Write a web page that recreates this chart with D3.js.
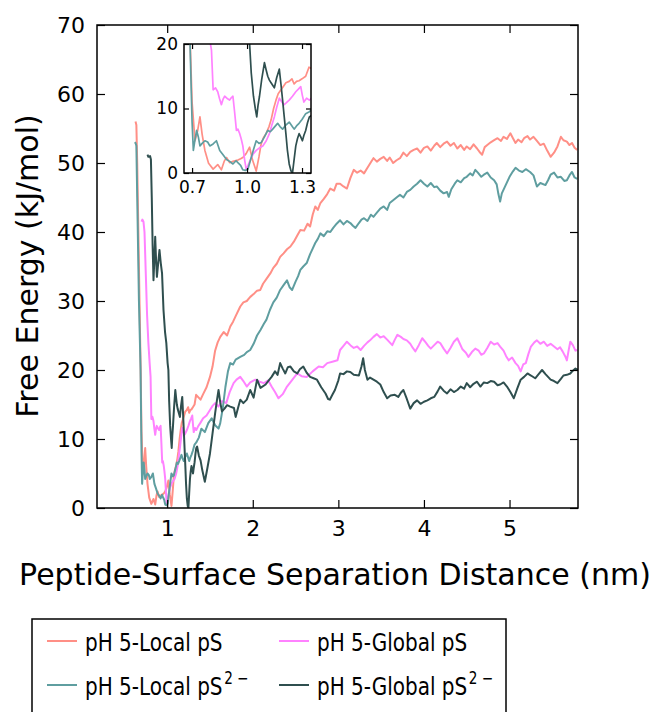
<!DOCTYPE html>
<html>
<head>
<meta charset="utf-8">
<script src="https://cdn.jsdelivr.net/npm/d3@7"></script>
<style>
    body { margin: 0; background: #fff; }
    svg { font-family: 'DejaVu Sans', sans-serif; }
</style>
</head>
<body>
<script>
// Series data (distance in nm, free energy in kJ/mol)
const distLocalPS = [0.63, 0.64, 0.65, 0.67, 0.69, 0.70, 0.716, 0.73, 0.743, 0.755, 0.77, 0.79, 0.815, 0.84, 0.86, 0.875, 0.888, 0.905, 0.923, 0.95, 0.965, 0.977, 0.995, 1.014, 1.03, 1.05, 1.065, 1.077, 1.09, 1.104, 1.12, 1.131, 1.145, 1.158, 1.17, 1.185, 1.2, 1.212, 1.23, 1.245, 1.257, 1.27, 1.284, 1.3, 1.32, 1.338, 1.36, 1.39, 1.42, 1.46, 1.5, 1.53, 1.56, 1.59, 1.62, 1.66, 1.7, 1.737, 1.77, 1.8, 1.854, 1.89, 1.93, 1.971, 2.01, 2.05, 2.088, 2.12, 2.16, 2.205, 2.24, 2.28, 2.32, 2.36, 2.4, 2.44, 2.48, 2.52, 2.556, 2.6, 2.64, 2.67, 2.7, 2.73, 2.76, 2.79, 2.83, 2.87, 2.906, 2.95, 2.98, 3.02, 3.06, 3.1, 3.14, 3.18, 3.22, 3.26, 3.3, 3.34, 3.38, 3.41, 3.45, 3.49, 3.53, 3.57, 3.6, 3.64, 3.68, 3.72, 3.76, 3.8, 3.84, 3.88, 3.92, 3.96, 4.0, 4.04, 4.08, 4.12, 4.15, 4.19, 4.23, 4.27, 4.31, 4.35, 4.39, 4.43, 4.47, 4.5, 4.54, 4.58, 4.62, 4.65, 4.68, 4.71, 4.74, 4.78, 4.82, 4.86, 4.9, 4.93, 4.97, 5.01, 5.04, 5.07, 5.1, 5.14, 5.17, 5.21, 5.24, 5.28, 5.32, 5.36, 5.4, 5.44, 5.48, 5.52, 5.56, 5.6, 5.63, 5.67, 5.7, 5.73, 5.76, 5.79];
const energyLocalPS = [56, 55.5, 50, 35, 20, 11, 5, 6.5, 8.7, 6, 3.5, 1.5, 0.6, 1.3, 0.5, 1.8, 2.4, 1.6, 1.8, 2.0, 2.2, 2.4, 3.0, 4.0, 2.0, 0.3, 2.5, 4.5, 5.5, 6.1, 7.2, 8.2, 10, 11.3, 12.3, 12.9, 13.5, 14.0, 14.2, 14.6, 13.8, 14.2, 14.3, 14.6, 15.0, 16.4, 16.1, 15.7, 16.5, 17.5, 19, 20.5, 22.8, 24.0, 24.8, 25.5, 25.0, 26.3, 27.0, 27.8, 29.2, 29.8, 30.0, 30.6, 31.0, 31.5, 31.6, 32.5, 33.2, 34.0, 34.8, 35.4, 36.4, 36.9, 37.5, 37.9, 38.6, 39.5, 40.3, 40.2, 41.2, 40.8, 42.5, 43.7, 43.2, 44.2, 44.8, 45.5, 46.3, 46.0, 47.0, 47.0, 46.6, 46.3, 47.8, 49.0, 48.6, 48.9, 48.5, 49.3, 50.1, 50.7, 50.2, 50.6, 50.9, 50.3, 50.8, 50.0, 50.4, 50.7, 51.5, 51.0, 51.6, 51.9, 52.1, 51.5, 52.2, 52.4, 51.8, 52.5, 52.9, 52.3, 52.8, 53.1, 52.5, 52.9, 52.1, 52.6, 51.9, 52.4, 52.0, 52.7, 52.1, 51.6, 51.2, 52.3, 52.6, 53.0, 53.3, 53.6, 53.2, 53.8, 53.5, 54.3, 53.6, 52.9, 53.4, 53.0, 53.6, 53.9, 53.4, 53.8, 53.2, 52.6, 52.8, 51.8, 50.9, 51.5, 52.4, 53.8, 53.3, 53.1, 52.6, 52.9, 52.2, 51.9];

const distGlobalPS = [0.70, 0.71, 0.723, 0.735, 0.75, 0.765, 0.78, 0.795, 0.806, 0.815, 0.828, 0.84, 0.85, 0.86, 0.87, 0.878, 0.89, 0.905, 0.915, 0.923, 0.932, 0.942, 0.95, 0.96, 0.968, 0.977, 0.987, 0.996, 1.01, 1.023, 1.035, 1.05, 1.068, 1.086, 1.105, 1.122, 1.135, 1.149, 1.162, 1.176, 1.19, 1.203, 1.215, 1.23, 1.248, 1.266, 1.28, 1.293, 1.302, 1.31, 1.325, 1.34, 1.36, 1.386, 1.42, 1.46, 1.5, 1.53, 1.56, 1.6, 1.64, 1.69, 1.73, 1.776, 1.81, 1.854, 1.89, 1.93, 1.97, 2.03, 2.08, 2.13, 2.18, 2.22, 2.26, 2.3, 2.35, 2.4, 2.45, 2.52, 2.57, 2.63, 2.7, 2.77, 2.82, 2.87, 2.93, 2.99, 3.02, 3.06, 3.1, 3.14, 3.18, 3.22, 3.26, 3.3, 3.34, 3.37, 3.41, 3.45, 3.49, 3.53, 3.57, 3.6, 3.63, 3.66, 3.69, 3.73, 3.76, 3.8, 3.84, 3.87, 3.9, 3.94, 3.98, 4.02, 4.05, 4.08, 4.12, 4.16, 4.19, 4.23, 4.27, 4.31, 4.35, 4.39, 4.42, 4.45, 4.49, 4.52, 4.56, 4.6, 4.64, 4.67, 4.7, 4.74, 4.78, 4.82, 4.86, 4.89, 4.93, 4.96, 4.99, 5.03, 5.07, 5.1, 5.13, 5.16, 5.19, 5.22, 5.25, 5.29, 5.32, 5.36, 5.4, 5.44, 5.48, 5.52, 5.56, 5.59, 5.62, 5.65, 5.67, 5.69, 5.71, 5.74, 5.77, 5.79];
const energyGlobalPS = [41.5, 41.8, 41.5, 40, 34, 28, 24, 21, 19, 12.9, 13.2, 12.6, 11.5, 10.6, 11.5, 11.9, 11.6, 11.3, 11.7, 11.9, 9.5, 6.6, 6.8, 6.1, 5.3, 4.2, 2.0, 0.5, 1.5, 2.4, 3.0, 3.5, 3.9, 4.2, 5.0, 6.1, 7.4, 8.7, 10.2, 11.6, 11.0, 10.6, 10.9, 11.3, 11.9, 12.6, 13.0, 13.4, 12.0, 11.0, 11.6, 11.3, 11.8, 12.3, 13.0, 13.4, 14.2, 14.8, 15.2, 14.7, 15.5, 15.2, 16.8, 18.1, 18.6, 19.0, 18.4, 17.6, 18.2, 18.6, 18.3, 18.1, 18.5, 17.6, 16.8, 15.9, 16.5, 17.6, 18.4, 19.5, 19.1, 19.0, 19.8, 20.5, 20.4, 21.0, 21.2, 21.4, 22.9, 23.5, 24.1, 23.6, 23.2, 23.4, 22.9, 23.5, 24.0, 24.3, 24.8, 25.2, 24.7, 24.9, 24.4, 24.0, 23.6, 24.4, 25.1, 24.8, 24.5, 24.3, 23.8, 23.2, 22.7, 23.6, 24.6, 24.0, 23.5, 23.1, 23.6, 24.1, 23.9, 23.1, 22.4, 23.2, 24.1, 24.6, 23.8, 23.0, 22.5, 21.9, 22.6, 23.1, 22.8, 22.2, 22.4, 23.2, 24.1, 23.7, 23.9, 23.4, 22.8, 22.0, 21.4, 21.8, 21.0, 20.6, 19.8, 20.8, 21.0, 22.3, 23.4, 24.0, 24.3, 23.8, 24.1, 23.5, 23.8, 23.4, 23.0, 23.3, 22.7, 22.0, 21.4, 22.8, 24.1, 23.6, 22.8, 22.9];

const distLocalPS2 = [0.62, 0.63, 0.64, 0.65, 0.67, 0.689, 0.70, 0.707, 0.715, 0.725, 0.735, 0.743, 0.755, 0.77, 0.785, 0.797, 0.815, 0.833, 0.851, 0.87, 0.888, 0.905, 0.923, 0.94, 0.95, 0.965, 0.977, 0.99, 1.005, 1.023, 1.035, 1.05, 1.065, 1.077, 1.095, 1.113, 1.127, 1.14, 1.155, 1.167, 1.18, 1.194, 1.21, 1.23, 1.245, 1.257, 1.27, 1.284, 1.3, 1.32, 1.34, 1.37, 1.4, 1.44, 1.48, 1.52, 1.56, 1.6, 1.62, 1.65, 1.68, 1.71, 1.737, 1.77, 1.8, 1.854, 1.9, 1.93, 1.97, 2.01, 2.05, 2.09, 2.13, 2.16, 2.2, 2.24, 2.28, 2.32, 2.36, 2.4, 2.43, 2.46, 2.5, 2.53, 2.556, 2.59, 2.63, 2.67, 2.7, 2.73, 2.76, 2.79, 2.83, 2.87, 2.906, 2.94, 2.98, 3.02, 3.06, 3.1, 3.14, 3.17, 3.2, 3.24, 3.27, 3.3, 3.34, 3.38, 3.41, 3.45, 3.49, 3.53, 3.57, 3.6, 3.64, 3.68, 3.72, 3.76, 3.8, 3.84, 3.88, 3.92, 3.96, 4.0, 4.04, 4.08, 4.12, 4.15, 4.19, 4.23, 4.27, 4.29, 4.32, 4.36, 4.39, 4.43, 4.47, 4.5, 4.54, 4.57, 4.6, 4.63, 4.67, 4.7, 4.74, 4.78, 4.82, 4.85, 4.87, 4.89, 4.91, 4.94, 4.97, 5.0, 5.04, 5.07, 5.11, 5.15, 5.19, 5.24, 5.28, 5.3, 5.32, 5.36, 5.42, 5.45, 5.48, 5.52, 5.56, 5.6, 5.64, 5.67, 5.7, 5.73, 5.76, 5.79];
const energyLocalPS2 = [53, 52.9, 52.5, 45, 30, 20, 8, 3.5, 5, 6.6, 5.5, 4.2, 4.6, 5.0, 4.8, 4.2, 4.5, 5.0, 3.5, 2.8, 2.1, 1.8, 1.4, 1.9, 1.6, 1.2, 0.5, 0.4, 0.6, 2.4, 3.6, 5.0, 4.6, 4.7, 5.6, 6.6, 6.4, 6.8, 7.3, 7.7, 7.2, 6.8, 7.4, 7.9, 7.3, 6.8, 7.3, 7.7, 8.3, 9.2, 9.5, 10.2, 11.5, 11.0, 12.3, 13.0, 12.0, 11.5, 12.3, 14.5, 17.5, 19.8, 21.0, 20.8, 21.5, 21.9, 22.2, 22.6, 22.9, 23.8, 25.0, 25.8, 26.7, 27.3, 28.7, 29.8, 30.5, 31.6, 32.3, 33.0, 32.0, 31.6, 32.8, 33.6, 34.5, 35.0, 35.5, 36.8, 37.6, 38.4, 39.0, 39.8, 39.4, 40.1, 40.0, 40.6, 41.2, 41.7, 41.1, 41.6, 41.3, 40.9, 40.6, 41.3, 41.8, 42.0, 41.6, 42.5, 42.2, 42.8, 43.4, 43.7, 43.2, 44.2, 44.6, 45.0, 45.4, 45.0, 45.8, 46.1, 46.6, 47.0, 47.5, 47.0, 46.6, 47.1, 46.5, 46.6, 46.0, 45.6, 45.8, 45.1, 46.2, 47.0, 47.5, 47.2, 47.8, 48.0, 48.5, 48.2, 49.0, 48.6, 48.0, 48.3, 48.6, 47.9, 47.5, 46.9, 45.5, 44.4, 45.6, 46.4, 47.2, 48.0, 48.8, 49.3, 48.9, 48.7, 49.1, 48.7, 48.2, 47.4, 46.6, 47.1, 46.8, 47.5, 48.3, 48.6, 47.9, 48.0, 47.4, 47.5, 48.2, 48.7, 47.9, 47.7];

const distGlobalPS2 = [0.77, 0.78, 0.8, 0.81, 0.82, 0.83, 0.84, 0.85, 0.86, 0.87, 0.88, 0.895, 0.91, 0.925, 0.94, 0.957, 0.975, 0.99, 1.005, 1.014, 1.023, 1.035, 1.045, 1.053, 1.06, 1.068, 1.08, 1.095, 1.104, 1.113, 1.122, 1.131, 1.14, 1.149, 1.162, 1.176, 1.185, 1.194, 1.203, 1.212, 1.22, 1.23, 1.24, 1.248, 1.257, 1.266, 1.275, 1.284, 1.293, 1.302, 1.31, 1.32, 1.33, 1.34, 1.35, 1.37, 1.39, 1.41, 1.44, 1.47, 1.5, 1.53, 1.56, 1.58, 1.6, 1.62, 1.64, 1.67, 1.7, 1.737, 1.78, 1.8, 1.83, 1.854, 1.89, 1.93, 1.97, 2.01, 2.05, 2.09, 2.15, 2.18, 2.22, 2.26, 2.29, 2.32, 2.35, 2.38, 2.41, 2.44, 2.48, 2.52, 2.55, 2.59, 2.63, 2.67, 2.71, 2.75, 2.8, 2.85, 2.88, 2.9, 2.93, 2.96, 3.0, 3.02, 3.06, 3.1, 3.14, 3.18, 3.24, 3.27, 3.29, 3.31, 3.34, 3.37, 3.41, 3.45, 3.49, 3.53, 3.57, 3.61, 3.66, 3.7, 3.73, 3.76, 3.8, 3.84, 3.88, 3.92, 3.96, 4.0, 4.04, 4.08, 4.12, 4.16, 4.19, 4.23, 4.27, 4.31, 4.35, 4.39, 4.43, 4.47, 4.5, 4.54, 4.58, 4.62, 4.66, 4.7, 4.74, 4.78, 4.82, 4.86, 4.89, 4.93, 4.97, 5.01, 5.05, 5.09, 5.13, 5.17, 5.21, 5.25, 5.3, 5.34, 5.38, 5.42, 5.48, 5.52, 5.56, 5.6, 5.63, 5.67, 5.71, 5.74, 5.77, 5.8];
const energyGlobalPS2 = [51.2, 50.9, 51.0, 50.5, 45, 38, 33, 36, 39.3, 36, 33.5, 35.5, 37.4, 35.5, 34, 28.7, 25.5, 23.9, 21, 20, 15.5, 11.9, 10, 8.7, 10.5, 11.9, 14.5, 17.1, 16.0, 15.0, 14.4, 14.0, 13.6, 13.2, 14.8, 16.1, 13.8, 11.3, 8.7, 6.1, 3.6, 1.4, 0.3, 0, 2.1, 4.2, 5.3, 6.1, 5.6, 5.0, 5.8, 6.6, 7.8, 8.7, 8.9, 7.6, 6.9, 5.5, 3.8, 5.8, 7.9, 10.8, 13.7, 15.5, 17.1, 15.3, 14.0, 14.4, 14.9, 14.7, 14.5, 13.2, 14.6, 15.7, 15.2, 15.7, 17.1, 16.0, 18.6, 17.4, 17.9, 18.4, 19.0, 19.8, 19.3, 21.0, 20.2, 19.5, 20.4, 20.5, 19.8, 19.5, 20.1, 20.5, 19.6, 19.0, 18.8, 18.6, 17.5, 16.6, 15.8, 15.7, 16.4, 17.1, 18.5, 19.5, 19.4, 19.8, 19.7, 19.3, 19.2, 20.5, 21.7, 20.0, 18.6, 18.9, 18.6, 18.3, 17.9, 16.8, 15.9, 16.3, 16.4, 16.1, 16.7, 17.1, 15.8, 14.4, 15.2, 15.6, 15.1, 15.4, 15.6, 15.9, 16.1, 16.9, 17.6, 17.0, 16.6, 17.2, 16.8, 17.1, 17.6, 17.3, 18.1, 17.5, 18.0, 18.3, 17.6, 18.2, 18.1, 18.4, 18.3, 17.8, 17.9, 18.2, 17.6, 16.8, 15.9, 17.3, 18.6, 19.0, 19.5, 19.2, 18.8, 19.4, 20.0, 19.4, 18.6, 18.4, 18.1, 18.7, 19.2, 19.3, 19.5, 19.9, 20.2, 20.0];

const seriesNames = ['pH 5-Local pS', 'pH 5-Global pS', 'pH 5-Local pS', 'pH 5-Global pS'];
const seriesSup = ['', '', '2 \u2212', '2 \u2212'];
const seriesColors = ['#ff8f86', '#ff82ff', '#5f9ea0', '#2f4f4f'];

const xTicks = [1, 2, 3, 4, 5];
const yTicks = [0, 10, 20, 30, 40, 50, 60, 70];
const insetXTicks = [0.7, 1.0, 1.3];
const insetYTicks = [0, 10, 20];

// Combine the arrays into point lists, drawing order as in the figure
const series = [
    { dist: distLocalPS, energy: energyLocalPS, i: 0 },
    { dist: distGlobalPS, energy: energyGlobalPS, i: 1 },
    { dist: distLocalPS2, energy: energyLocalPS2, i: 2 },
    { dist: distGlobalPS2, energy: energyGlobalPS2, i: 3 },
].map((s) => ({ i: s.i, points: s.dist.map((d, k) => [d, s.energy[k]]) }));

const width = 655;
const height = 712;

const svg = d3.select('body').append('svg').attr('width', width).attr('height', height);

// Main axes box
const main = { left: 97, right: 578, top: 25, bottom: 508 };
const xscale = d3.scaleLinear().domain([0.18, 5.8]).range([main.left, main.right]);
const yscale = d3.scaleLinear().domain([0, 70]).range([main.bottom, main.top]);

// Inset axes box
const ins = { left: 184, right: 311, top: 44, bottom: 173 };
const xin = d3.scaleLinear().domain([0.656, 1.349]).range([ins.left, ins.right]);
const yin = d3.scaleLinear().domain([0, 20]).range([ins.bottom, ins.top]);

const defs = svg.append('defs');
defs.append('clipPath').attr('id', 'clip-main')
    .append('rect')
    .attr('x', main.left).attr('y', main.top)
    .attr('width', main.right - main.left).attr('height', main.bottom - main.top);
defs.append('clipPath').attr('id', 'clip-inset')
    .append('rect')
    .attr('x', ins.left).attr('y', ins.top)
    .attr('width', ins.right - ins.left).attr('height', ins.bottom - ins.top);

// Draws lines, inward ticks on all four sides and a frame for one axes box
function drawAxes(box, xs, ys, xt, yt, opts) {
    const g = svg.append('g');

    g.append('rect')
        .attr('x', box.left).attr('y', box.top)
        .attr('width', box.right - box.left).attr('height', box.bottom - box.top)
        .attr('fill', '#fff');

    const line = d3.line().x((d) => xs(d[0])).y((d) => ys(d[1]));
    g.append('g')
        .attr('clip-path', `url(#${opts.clip})`)
        .selectAll('path')
        .data(series)
        .join('path')
        .attr('d', (d) => line(d.points))
        .attr('fill', 'none')
        .attr('stroke', (d) => seriesColors[d.i])
        .attr('stroke-width', opts.lw)
        .attr('stroke-linejoin', 'round');

    const tl = opts.tickLen;
    const bottomAxis = d3.axisBottom(xs).tickValues(xt).tickSize(-tl).tickPadding(opts.padX).tickFormat(opts.xfmt);
    const topAxis = d3.axisTop(xs).tickValues(xt).tickSize(-tl).tickFormat('');
    const leftAxis = d3.axisLeft(ys).tickValues(yt).tickSize(-tl).tickPadding(opts.padY).tickFormat(d3.format('d'));
    const rightAxis = d3.axisRight(ys).tickValues(yt).tickSize(-tl).tickFormat('');

    const axes = [
        g.append('g').attr('transform', `translate(0,${box.bottom})`).call(bottomAxis),
        g.append('g').attr('transform', `translate(0,${box.top})`).call(topAxis),
        g.append('g').attr('transform', `translate(${box.left},0)`).call(leftAxis),
        g.append('g').attr('transform', `translate(${box.right},0)`).call(rightAxis),
    ];
    axes.forEach((a) => {
        a.select('.domain').remove();
        a.selectAll('line').attr('stroke', '#000').attr('stroke-width', 1.2);
        a.selectAll('text')
            .attr('fill', '#000')
            .style('font-family', "'DejaVu Sans', sans-serif")
            .style('font-size', opts.fontSize + 'px');
    });

    g.append('rect')
        .attr('x', box.left).attr('y', box.top)
        .attr('width', box.right - box.left).attr('height', box.bottom - box.top)
        .attr('fill', 'none')
        .attr('stroke', '#000')
        .attr('stroke-width', 1.5);
}

drawAxes(main, xscale, yscale, xTicks, yTicks, {
    clip: 'clip-main', lw: 2, tickLen: 8, padX: 12, padY: 12, fontSize: 22, xfmt: d3.format('d'),
});
drawAxes(ins, xin, yin, insetXTicks, insetYTicks, {
    clip: 'clip-inset', lw: 1.7, tickLen: 5, padX: 8, padY: 6, fontSize: 17, xfmt: d3.format('.1f'),
});

// Axis titles
svg.append('text')
    .attr('x', 335).attr('y', 585)
    .attr('text-anchor', 'middle')
    .style('font-size', '30px')
    .text('Peptide-Surface Separation Distance (nm)');

svg.append('text')
    .attr('transform', 'translate(38,266) rotate(-90)')
    .attr('text-anchor', 'middle')
    .style('font-size', '30px')
    .text('Free Energy (kJ/mol)');

// Legend, two columns, frame runs past the bottom edge
const legend = svg.append('g');
legend.append('rect')
    .attr('x', 32).attr('y', 619)
    .attr('width', 474).attr('height', 120)
    .attr('fill', '#fff')
    .attr('stroke', '#000')
    .attr('stroke-width', 1.5);

const legendPos = [[47, 641], [279, 641], [47, 685], [279, 685]];
const entries = legend.selectAll('g.entry')
    .data(seriesNames.map((n, i) => ({ name: n, sup: seriesSup[i], color: seriesColors[i], pos: legendPos[i] })))
    .join('g')
    .attr('class', 'entry')
    .attr('transform', (d) => `translate(${d.pos[0]},${d.pos[1]})`);

entries.append('line')
    .attr('x1', 0).attr('x2', 30)
    .attr('stroke', (d) => d.color)
    .attr('stroke-width', 2);

const labels = entries.append('text')
    .attr('transform', 'translate(38,10) scale(0.8,1)')
    .style('font-size', '25px')
    .text((d) => d.name);
labels.filter((d) => d.sup)
    .append('tspan')
    .attr('dx', 2)
    .attr('dy', -11)
    .style('font-size', '17px')
    .text((d) => d.sup);
</script>
</body>
</html>
